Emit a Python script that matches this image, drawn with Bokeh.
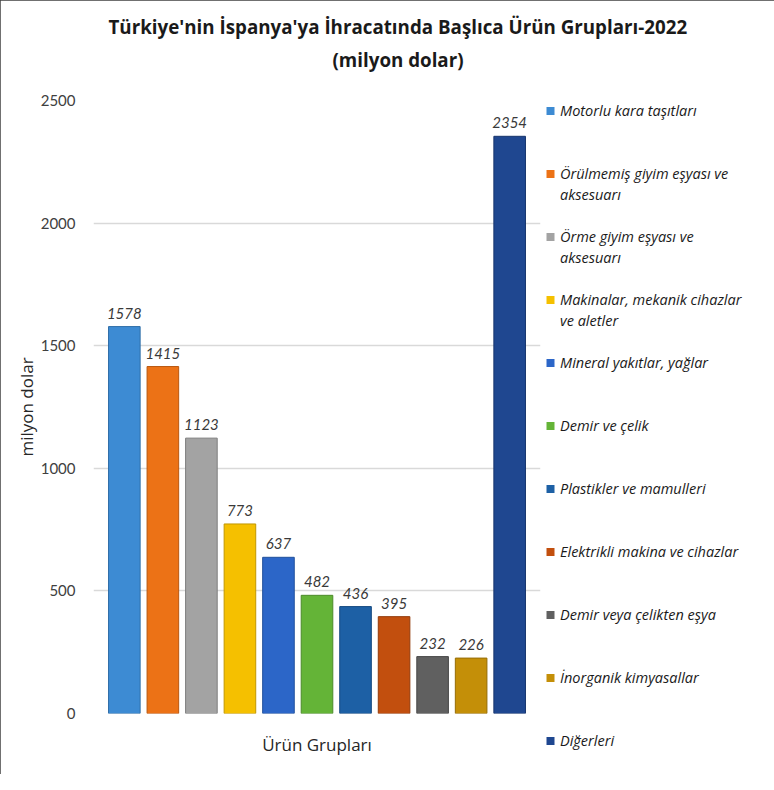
from bokeh.plotting import figure
from bokeh.models import Range1d, Legend, LegendItem, ColumnDataSource, FixedTicker, LabelSet, Title
from bokeh.core.properties import value
from bokeh.embed import file_html
from bokeh.resources import INLINE

# ---- data ----
categories = [
    "Motorlu kara taşıtları",
    "Örülmemiş giyim eşyası ve aksesuarı",
    "Örme giyim eşyası ve aksesuarı",
    "Makinalar, mekanik cihazlar ve aletler",
    "Mineral yakıtlar, yağlar",
    "Demir ve çelik",
    "Plastikler ve mamulleri",
    "Elektrikli makina ve cihazlar",
    "Demir veya çelikten eşya",
    "İnorganik kimyasallar",
    "Diğerleri",
]
# legend text wrapped onto two lines where it is long
legend_line1 = [
    "Motorlu kara taşıtları",
    "Örülmemiş giyim eşyası ve",
    "Örme giyim eşyası ve",
    "Makinalar, mekanik cihazlar",
    "Mineral yakıtlar, yağlar",
    "Demir ve çelik",
    "Plastikler ve mamulleri",
    "Elektrikli makina ve cihazlar",
    "Demir veya çelikten eşya",
    "İnorganik kimyasallar",
    "Diğerleri",
]
legend_line2 = ["", "aksesuarı", "aksesuarı", "ve aletler", "", "", "", "", "", "", ""]
values = [1578, 1415, 1123, 773, 637, 482, 436, 395, 232, 226, 2354]
colors = ["#3d8bd3", "#ec7216", "#a3a3a3", "#f5c000", "#2c66c8", "#64b437",
          "#1d60a5", "#c24f0e", "#606060", "#c48f08", "#1f4790"]
edge_colors = ["#2f6ea8", "#b9570f", "#7d7d7d", "#c19600", "#21509c", "#4b8a29",
               "#164a80", "#933b0a", "#474747", "#966d06", "#17356c"]
y_ticks = [0, 500, 1000, 1500, 2000, 2500]
title_line1 = "Türkiye'nin İspanya'ya İhracatında Başlıca Ürün Grupları-2022"
title_line2 = "(milyon dolar)"

FONT = "Lato"
FONT2 = "Open Sans"

src = ColumnDataSource(dict(
    x=list(range(len(values))),
    top=values,
    color=colors,
    edge=edge_colors,
    label=[str(v) for v in values],
))

p = figure(frame_width=447, frame_height=613,
           x_range=Range1d(-0.8, 10.8), y_range=Range1d(0, 2500),
           output_backend="svg", toolbar_location=None,
           min_border_left=93, min_border_right=218,
           min_border_top=100, min_border_bottom=61)
p.styles = {"outline": "2px solid #404040", "outline-offset": "-2px"}

# size-0 markers: not visible in the plot, they only give the legend swatches
sc = p.scatter(x="x", y="top", source=src, size=0, marker="square",
               fill_color="color", line_color=None)
p.vbar(x="x", top="top", width=0.82, source=src,
       fill_color="color", line_color="edge", line_width=1)

labels = LabelSet(x="x", y="top", text="label", source=src,
                  y_offset=8, text_align="center", text_baseline="bottom",
                  text_font=value(FONT), text_font_style="italic",
                  text_font_size="15px", text_color="#3a3a3a")
p.add_layout(labels)

# titles: p.title is outermost; among added ones, the first added is closest to the frame
title_style = dict(text_font=FONT2, text_font_size="18.75px",
                   text_font_style="bold", text_color="#1a1a1a")
p.title.text = title_line1
p.title.align = "left"
p.title.offset = 15
p.title.standoff = 8.5
for k, v in title_style.items():
    setattr(p.title, k, v)
spacer = Title(text=" ", align="left", standoff=0, **title_style)
p.add_layout(spacer, "above")
t2 = Title(text=title_line2, align="left", offset=239, standoff=2.5, **title_style)
p.add_layout(t2, "above")

# axes
p.xaxis.ticker = FixedTicker(ticks=[])
p.xaxis.bounds = (-0.15, 10.8)
p.xaxis.axis_label = "Ürün Grupları"
p.xaxis.axis_label_text_font = FONT2
p.xaxis.axis_label_text_font_style = "normal"
p.xaxis.axis_label_text_font_size = "17px"
p.xaxis.axis_label_text_color = "#262626"
p.xaxis.axis_label_standoff = 19
p.xaxis.axis_line_color = None
p.xaxis.major_tick_line_color = None
p.xaxis.minor_tick_line_color = None
p.xaxis.major_label_text_font_size = "0px"
p.xgrid.visible = False

p.yaxis.ticker = FixedTicker(ticks=y_ticks)
p.yaxis.axis_label = "milyon dolar"
p.yaxis.axis_label_text_font = FONT2
p.yaxis.axis_label_text_font_style = "normal"
p.yaxis.axis_label_text_font_size = "17px"
p.yaxis.axis_label_text_color = "#262626"
p.yaxis.axis_label_standoff = 0
p.yaxis.axis_line_color = None
p.yaxis.major_tick_line_color = None
p.yaxis.minor_tick_line_color = None
p.yaxis.major_label_standoff = 12
p.yaxis.major_label_text_font = FONT
p.yaxis.major_label_text_font_size = "15px"
p.yaxis.major_label_text_color = "#404040"
p.ygrid.grid_line_color = "#d9d9d9"
p.ygrid.grid_line_width = 1.5
p.outline_line_color = None

# legend: three rows per category (label, wrapped continuation, gap)
items = []
n = len(values)
for i in range(n):
    items.append(LegendItem(label=legend_line1[i], renderers=[sc], index=i))
    if i < n - 1:
        items.append(LegendItem(label=legend_line2[i] or " ", renderers=[]))
        items.append(LegendItem(label=" ", renderers=[]))
legend = Legend(items=items, location="top_left", orientation="vertical",
                glyph_width=20, glyph_height=21, label_height=21, spacing=0,
                padding=0, margin=0, label_standoff=0,
                border_line_color=None, background_fill_alpha=0,
                label_text_font=FONT2, label_text_font_style="italic",
                label_text_font_size="14.5px", label_text_color="#1a1a1a")
p.add_layout(legend, "right")

open("out.html", "w").write(file_html(p, INLINE))
